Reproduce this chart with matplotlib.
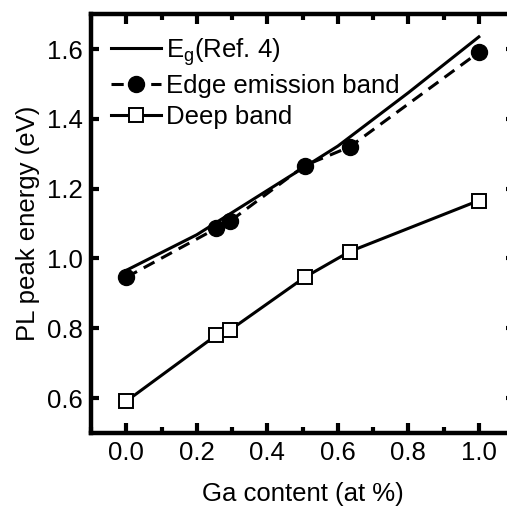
import matplotlib

matplotlib.use("Agg")

import matplotlib.pyplot as plt
from matplotlib.ticker import FormatStrFormatter, MultipleLocator

# values
ga_eg = [0.0, 0.2, 0.4, 0.6, 0.8, 1.0]
eg_ref4 = [0.966, 1.068, 1.195, 1.322, 1.475, 1.635]

ga_pts = [0.0, 0.255, 0.293, 0.506, 0.634, 1.0]
edge_band = [0.946, 1.086, 1.106, 1.266, 1.32, 1.591]
deep_band = [0.591, 0.78, 0.794, 0.946, 1.02, 1.166]

plt.rcParams["font.family"] = ["Liberation Sans", "DejaVu Sans"]
plt.rcParams["mathtext.fontset"] = "custom"
plt.rcParams["mathtext.rm"] = "Liberation Sans"

FS = 18.5

fig = plt.figure(figsize=(5.07, 5.07), dpi=100)
ax = fig.add_axes([0.1795, 0.146, 0.8345, 0.826])

ax.plot(ga_eg, eg_ref4, color="black", lw=2.2, label=r"E$_\mathrm{g}$(Ref. 4)")
ax.plot(ga_pts, edge_band, color="black", lw=2.2, ls=(0, (4, 2.5)),
        marker="o", ms=11.5, mfc="black", mec="black", label="Edge emission band")
ax.plot(ga_pts, deep_band, color="black", lw=2.2, marker="s", ms=9.5,
        mfc="white", mec="black", mew=1.4, label="Deep band")

ax.set_xlim(-0.1, 1.1)
ax.set_ylim(0.5, 1.7)
ax.xaxis.set_major_locator(MultipleLocator(0.2))
ax.xaxis.set_minor_locator(MultipleLocator(0.1))
ax.yaxis.set_major_locator(MultipleLocator(0.2))
ax.xaxis.set_major_formatter(FormatStrFormatter("%.1f"))
ax.yaxis.set_major_formatter(FormatStrFormatter("%.1f"))

ax.tick_params(axis="x", which="major", direction="in", top=True, length=7,
               width=3, labelsize=FS, pad=6)
ax.tick_params(axis="x", which="minor", direction="in", top=True, length=4, width=3)
ax.tick_params(axis="y", which="major", direction="in", right=True, length=6,
               width=3, labelsize=FS, pad=6)
for sp in ax.spines.values():
    sp.set_linewidth(3.2)

ax.set_xlabel("Ga content (at %)", fontsize=FS, labelpad=12)
ax.set_ylabel("PL peak energy (eV)", fontsize=FS, labelpad=5)

ax.legend(loc="upper left", frameon=False, fontsize=FS, handlelength=1.95,
          handletextpad=0.2, labelspacing=0.25, borderaxespad=0.2,
          bbox_to_anchor=(0.01, 0.985))

fig.savefig("out.png", dpi=100)
